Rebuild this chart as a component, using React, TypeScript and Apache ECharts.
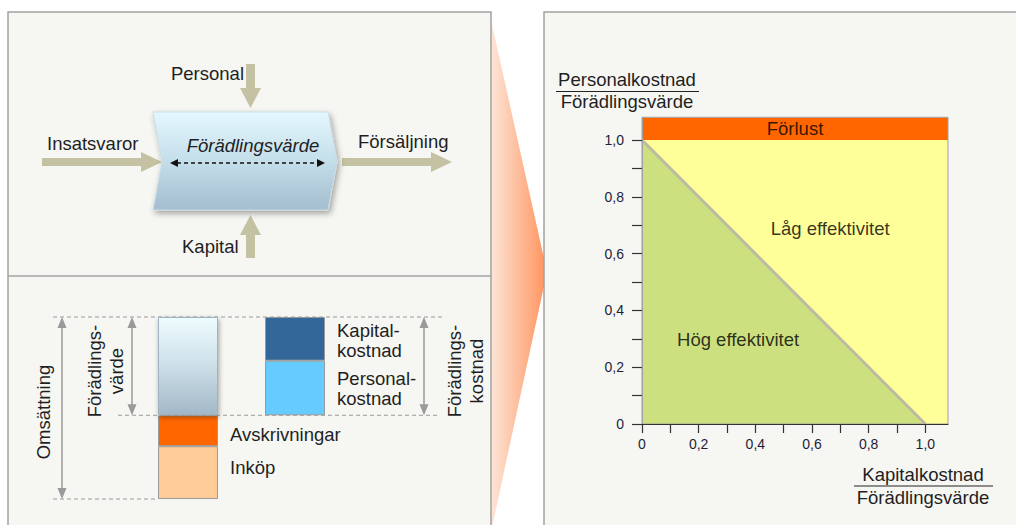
import { useEffect, useRef } from 'react';
import * as echarts from 'echarts';

// ---- Right chart: efficiency map ----
const AXIS_MAX = 1.08;
const tickValues = [0, 0.1, 0.2, 0.3, 0.4, 0.5, 0.6, 0.7, 0.8, 0.9, 1.0];
const labelValues = [0, 0.2, 0.4, 0.6, 0.8, 1.0];
const lossLevel = 1.0;
const frontier = [[0, 1], [1, 0]];
const regionLabels = [
  { name: 'Förlust', value: [0.54, 1.04] },
  { name: 'Låg effektivitet', value: [0.664, 0.69] },
  { name: 'Hög effektivitet', value: [0.339, 0.296] },
];

// ---- Left bars: composition of turnover ----
const barCategories = ['Omsättning', 'Förädlingskostnad'];
const inkop = [29, '-'];
const avskrivningar = [17, '-'];
const foradlingsvarde = [54, '-'];
const baseOffset = ['-', 46];
const personalkostnad = ['-', 30];
const kapitalkostnad = ['-', 24];
const BAR_TOTAL = 100;

const FONT = '"Liberation Sans", Arial, Helvetica, sans-serif';
const FS = 18.5;
const TXT = '#1f1f1f';
const ARROW = '#c4c2a2';
const GUIDE = '#9a9a9a';

// bar grid layout
const BG = { left: 134.5, top: 317, width: 214, height: 182 };
const yb = (v: number) => BG.top + BG.height * (1 - v / BAR_TOTAL);

function vArrow(x: number, y1: number, y2: number) {
  const h = 10, w = 4.5;
  return [
    { type: 'line', z: 1, shape: { x1: x, y1: y1 + h, x2: x, y2: y2 - h }, style: { stroke: GUIDE, lineWidth: 1.5 } },
    { type: 'polygon', z: 1, shape: { points: [[x, y1], [x - w, y1 + h + 1], [x + w, y1 + h + 1]] }, style: { fill: GUIDE } },
    { type: 'polygon', z: 1, shape: { points: [[x, y2], [x - w, y2 - h - 1], [x + w, y2 - h - 1]] }, style: { fill: GUIDE } },
  ];
}

function dashed(x1: number, x2: number, y: number) {
  return { type: 'line', z: 1, shape: { x1, y1: y, x2, y2: y }, style: { stroke: GUIDE, lineWidth: 1, lineDash: [4, 3] } };
}

function txt(text: string, x: number, y: number, opts: any = {}) {
  return {
    type: 'text', z: 100, x, y, rotation: opts.rotation || 0,
    style: {
      text, fill: opts.fill || TXT, font: `${opts.italic ? 'italic ' : ''}${opts.size || FS}px ${FONT}`,
      align: opts.align || 'left', verticalAlign: 'middle', lineHeight: opts.lineHeight || 20,
    },
  };
}

function fraction(num: string, den: string, cx: number, yNum: number, yLine: number, yDen: number, x1: number, x2: number) {
  return [
    txt(num, cx, yNum, { align: 'center' }),
    { type: 'line', z: 100, shape: { x1, y1: yLine, x2, y2: yLine }, style: { stroke: '#222', lineWidth: 1 } },
    txt(den, cx, yDen, { align: 'center' }),
  ];
}

const fmt = (v: number) => (v === 0 ? '0' : v.toFixed(1).replace('.', ','));

export default function App() {
  const ref = useRef<HTMLDivElement>(null);
  useEffect(() => {
    if (!ref.current) return;
    const chart = echarts.init(ref.current, undefined, { renderer: 'svg' });

    const graphic: any[] = [
      // wedge
      {
        type: 'polygon', z: 0, shape: { points: [[491, 20], [547, 272], [491, 532]] },
        style: { fill: new echarts.graphic.LinearGradient(0, 0, 1, 0, [{ offset: 0, color: '#fde6d8' }, { offset: 1, color: '#ff925c' }]) },
      },
      // panels
      { type: 'rect', z: 0, shape: { x: 8, y: 12, width: 483, height: 530 }, style: { fill: '#f6f6f2', stroke: '#a3a3a3', lineWidth: 1.5 } },
      { type: 'rect', z: 0, shape: { x: 544, y: 12, width: 500, height: 530 }, style: { fill: '#f6f6f2', stroke: '#a3a3a3', lineWidth: 1.5 } },
      { type: 'line', z: 0, shape: { x1: 8, y1: 276, x2: 491, y2: 276 }, style: { stroke: '#a3a3a3', lineWidth: 1.5 } },

      // top-left process diagram arrows
      { type: 'polygon', z: 1, shape: { points: [[246, 64], [255, 64], [255, 88], [261, 88], [250.5, 108], [240, 88], [246, 88]] }, style: { fill: ARROW } },
      { type: 'polygon', z: 1, shape: { points: [[250.5, 215], [261, 235], [255, 235], [255, 258], [246, 258], [246, 235], [240, 235]] }, style: { fill: ARROW } },
      { type: 'polygon', z: 1, shape: { points: [[42, 158], [141, 158], [141, 152], [162, 162], [141, 172], [141, 166], [42, 166]] }, style: { fill: ARROW } },
      { type: 'polygon', z: 1, shape: { points: [[342, 158], [431, 158], [431, 152], [452, 162], [431, 172], [431, 166], [342, 166]] }, style: { fill: ARROW } },
      // chevron
      {
        type: 'polygon', z: 1, shape: { points: [[153, 112], [328, 112], [337, 162], [328, 210], [153, 210], [162, 162]] },
        style: {
          fill: new echarts.graphic.LinearGradient(0, 0, 0, 1, [
            { offset: 0, color: '#e4f8fe' }, { offset: 0.5, color: '#c4deea' }, { offset: 1, color: '#a4bdcf' },
          ]),
          stroke: '#c9dde7', lineWidth: 1,
          shadowBlur: 6, shadowColor: 'rgba(0,0,0,0.35)', shadowOffsetX: 2, shadowOffsetY: 3,
        },
      },
      { type: 'line', z: 2, shape: { x1: 177, y1: 163, x2: 318, y2: 163 }, style: { stroke: '#111', lineWidth: 1.3, lineDash: [4, 3] } },
      { type: 'polygon', z: 2, shape: { points: [[170, 163], [178, 159], [178, 167]] }, style: { fill: '#111' } },
      { type: 'polygon', z: 2, shape: { points: [[325, 163], [317, 159], [317, 167]] }, style: { fill: '#111' } },
      txt('Förädlingsvärde', 253, 145, { align: 'center', italic: true }),
      txt('Personal', 244, 73, { align: 'right' }),
      txt('Insatsvaror', 47, 143),
      txt('Försäljning', 358, 141),
      txt('Kapital', 182, 246),

      // bottom-left guides
      dashed(53, 442, yb(100)),
      dashed(118, 437, yb(46)),
      dashed(53, 158, yb(0)),
      ...vArrow(62, yb(100), yb(0)),
      ...vArrow(132, yb(100), yb(46)),
      ...vArrow(424, yb(100), yb(46)),
      txt('Omsättning', 43, 412, { align: 'center', rotation: Math.PI / 2 }),
      txt('Förädlings-\nvärde', 105, 371, { align: 'center', rotation: Math.PI / 2, lineHeight: 22 }),
      txt('Förädlings-\nkostnad', 465, 371, { align: 'center', rotation: Math.PI / 2, lineHeight: 22 }),

      // right chart axis titles
      ...fraction('Personalkostnad', 'Förädlingsvärde', 627, 79, 91.5, 101.5, 556, 699),
      ...fraction('Kapitalkostnad', 'Förädlingsvärde', 923, 474, 486, 497, 854, 993),
    ];

    const labelRight = (text: string, offset: number[]) => ({
      show: true, position: 'right', distance: 12, offset, formatter: text,
      fontSize: FS, fontFamily: FONT, color: TXT, lineHeight: 20,
    });

    const option: any = {
      animation: false,
      backgroundColor: '#ffffff',
      graphic,
      grid: [
        { left: 642, top: 117.3, width: 306, height: 306.7, show: true, backgroundColor: 'transparent', borderColor: '#a0a0a0', borderWidth: 1, z: 5 },
        { left: BG.left, top: BG.top, width: BG.width, height: BG.height, show: false },
      ],
      xAxis: [
        {
          type: 'value', gridIndex: 0, min: 0, max: AXIS_MAX, z: 10,
          splitLine: { show: false },
          axisLine: { show: true, lineStyle: { color: '#333', width: 1 } },
          axisTick: { show: true, customValues: tickValues, length: 9, lineStyle: { color: '#333', width: 1.2 } },
          axisLabel: { customValues: labelValues, formatter: fmt, margin: 13, fontSize: 14, fontFamily: FONT, color: '#1e1e3c' },
        },
        { type: 'category', gridIndex: 1, data: barCategories, show: false },
      ],
      yAxis: [
        {
          type: 'value', gridIndex: 0, min: 0, max: AXIS_MAX, z: 10,
          splitLine: { show: false },
          axisLine: { show: true, lineStyle: { color: '#a0a0a0', width: 1 } },
          axisTick: { show: true, customValues: tickValues, length: 10, lineStyle: { color: '#333', width: 1.2 } },
          axisLabel: { customValues: labelValues, formatter: fmt, margin: 18, fontSize: 14, fontFamily: FONT, color: '#1e1e3c' },
        },
        { type: 'value', gridIndex: 1, min: 0, max: BAR_TOTAL, show: false },
      ],
      series: [
        {
          name: 'Förlust', type: 'line', xAxisIndex: 0, yAxisIndex: 0, symbol: 'none',
          data: [[0, AXIS_MAX], [AXIS_MAX, AXIS_MAX]],
          lineStyle: { width: 0 }, areaStyle: { color: '#ff6600', opacity: 1 },
        },
        {
          name: 'Låg', type: 'line', xAxisIndex: 0, yAxisIndex: 0, symbol: 'none',
          data: [[0, lossLevel], [AXIS_MAX, lossLevel]],
          lineStyle: { width: 0 }, areaStyle: { color: '#ffff99', opacity: 1 },
        },
        {
          name: 'Hög', type: 'line', xAxisIndex: 0, yAxisIndex: 0, symbol: 'none',
          data: frontier,
          lineStyle: { width: 3, color: '#bcbba2' }, areaStyle: { color: '#cce07f', opacity: 1 },
        },
        {
          name: 'labels', type: 'scatter', xAxisIndex: 0, yAxisIndex: 0, z: 8,
          symbolSize: 1, itemStyle: { color: 'transparent' },
          data: regionLabels,
          label: {
            show: true, position: 'inside', formatter: '{b}', fontSize: FS, fontFamily: FONT,
            color: (p: any) => (p.name === 'Förlust' ? '#5e3b1c' : '#4d4d40'),
          },
        },
        // left bars
        {
          name: 'Inköp', type: 'bar', xAxisIndex: 1, yAxisIndex: 1, stack: 'a', barWidth: 60, data: inkop,
          itemStyle: { color: '#ffcc99', borderColor: '#9a9a9a', borderWidth: 1 },
          label: labelRight('Inköp', [0, -5]),
        },
        {
          name: 'Avskrivningar', type: 'bar', xAxisIndex: 1, yAxisIndex: 1, stack: 'a', barWidth: 60, data: avskrivningar,
          itemStyle: { color: '#ff6600', borderColor: '#9a9a9a', borderWidth: 1 },
          label: labelRight('Avskrivningar', [0, 4]),
        },
        {
          name: 'Förädlingsvärde', type: 'bar', xAxisIndex: 1, yAxisIndex: 1, stack: 'a', barWidth: 60, data: foradlingsvarde,
          itemStyle: {
            color: new echarts.graphic.LinearGradient(0, 0, 0, 1, [
              { offset: 0, color: '#eefcff' }, { offset: 0.5, color: '#ccdfe8' }, { offset: 1, color: '#a2b7c6' },
            ]),
            borderColor: '#9fb3c0', borderWidth: 1,
            shadowBlur: 5, shadowColor: 'rgba(0,0,0,0.35)', shadowOffsetX: 1, shadowOffsetY: 2,
          },
        },
        {
          name: 'base', type: 'bar', xAxisIndex: 1, yAxisIndex: 1, stack: 'a', barWidth: 60, data: baseOffset,
          itemStyle: { color: 'transparent' }, silent: true,
        },
        {
          name: 'Personalkostnad', type: 'bar', xAxisIndex: 1, yAxisIndex: 1, stack: 'a', barWidth: 60, data: personalkostnad,
          itemStyle: { color: '#66ccff', borderColor: '#9a9a9a', borderWidth: 1 },
          label: labelRight('Personal-\nkostnad', [0, 1]),
        },
        {
          name: 'Kapitalkostnad', type: 'bar', xAxisIndex: 1, yAxisIndex: 1, stack: 'a', barWidth: 60, data: kapitalkostnad,
          itemStyle: { color: '#336699', borderColor: '#9a9a9a', borderWidth: 1 },
          label: labelRight('Kapital-\nkostnad', [0, 2]),
        },
      ],
    };
    chart.setOption(option);
    return () => chart.dispose();
  }, []);

  return <div ref={ref} style={{ position: 'fixed', left: 0, top: 0, width: 1016, height: 525 }} />;
}
